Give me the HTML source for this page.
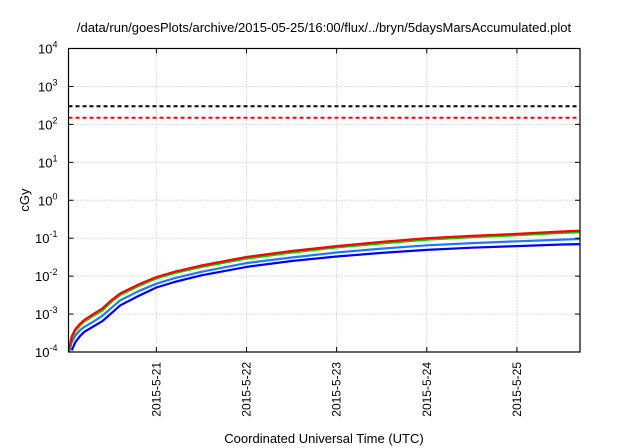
<!DOCTYPE html>
<html><head><meta charset="utf-8"><style>
body{margin:0;background:#fff}
svg{font-family:"Liberation Sans",sans-serif;display:block}
</style></head><body>
<svg id="c" width="640" height="448">
<text x="324" y="32" font-size="13" text-anchor="middle">/data/run/goesPlots/archive/2015-05-25/16:00/flux/../bryn/5daysMarsAccumulated.plot</text>
<text x="0" y="0" font-size="13" text-anchor="middle" transform="translate(29,200) rotate(-90)">cGy</text>
<text x="324" y="443" font-size="13" text-anchor="middle">Coordinated Universal Time (UTC)</text>
<g id="grid"></g><g id="series"></g><g id="axes"></g>
</svg>
<script>
const xTickDays=[21,22,23,24,25];
const xTickLabels=["2015-5-21","2015-5-22","2015-5-23","2015-5-24","2015-5-25"];
const yTickExps=[-4,-3,-2,-1,0,1,2,3,4];
const thresholdValues=[300,150];
const thresholdColors=["#000","#f00"];
const times=[20.03,20.06,20.1,20.15,20.2,20.3,20.4,20.5,20.6,20.8,21.0,21.2,21.5,22.0,22.5,23.0,23.5,24.0,24.5,25.0,25.5,25.7];
const redVals=[1.2e-4,2.6e-4,4e-4,5.5e-4,7e-4,1e-3,1.4e-3,2.3e-3,3.5e-3,6e-3,9.5e-3,1.3e-2,1.9e-2,3.2e-2,4.6e-2,6.2e-2,8e-2,1.0e-1,1.15e-1,1.3e-1,1.5e-1,1.58e-1];
const greenVals=[1.1e-4,2.3e-4,3.6e-4,5e-4,6.4e-4,9e-4,1.25e-3,2.1e-3,3.2e-3,5.5e-3,8.7e-3,1.2e-2,1.75e-2,2.9e-2,4.2e-2,5.7e-2,7.3e-2,9.2e-2,1.06e-1,1.2e-1,1.38e-1,1.45e-1];
const lightBlueVals=[1e-4,1.8e-4,2.7e-4,3.7e-4,4.6e-4,6.3e-4,9e-4,1.45e-3,2.3e-3,4e-3,6.3e-3,8.8e-3,1.3e-2,2.2e-2,3.1e-2,4.2e-2,5.3e-2,6.5e-2,7.4e-2,8.3e-2,9.2e-2,9.5e-2];
const darkBlueVals=[null,1.1e-4,1.8e-4,2.6e-4,3.4e-4,4.7e-4,6.5e-4,1.05e-3,1.7e-3,3e-3,5e-3,7e-3,1.05e-2,1.75e-2,2.5e-2,3.3e-2,4.1e-2,4.9e-2,5.6e-2,6.2e-2,6.8e-2,7e-2];
const seriesList=[[darkBlueVals,"#0000ff","series-dark-blue"],[lightBlueVals,"#1e78ff","series-light-blue"],[greenVals,"#00d000","series-green"],[redVals,"#ff0000","series-red"]];
const L=68.5,R=580,T=48.5,B=352,X0=20.025,X1=25.7;
const xs=d=>L+(d-X0)/(X1-X0)*(R-L);
const ys=v=>B-(Math.log10(v)+4)/8*(B-T);
const NS="http://www.w3.org/2000/svg";
function mk(tag,attrs,parent){const e=document.createElementNS(NS,tag);for(const k in attrs)e.setAttribute(k,attrs[k]);parent.appendChild(e);return e;}
const grid=document.getElementById('grid'),ser=document.getElementById('series'),ax=document.getElementById('axes');
xTickDays.forEach((d,i)=>{const x=xs(d);
 const g=mk('line',{x1:x,x2:x,y1:T,y2:B,stroke:"#bbb","stroke-dasharray":"1,2"},grid);
 
 
 mk('line',{x1:x,x2:x,y1:B,y2:B-5,stroke:"#000"},ax);
 mk('line',{x1:x,x2:x,y1:T,y2:T+5,stroke:"#000"},ax);
 const t=mk('text',{x:0,y:0,"font-size":"12","text-anchor":"end",transform:`translate(${x+4},${B+10}) rotate(-90)`},ax);
 t.textContent=xTickLabels[i];
 
 
});
yTickExps.forEach(e=>{const y=ys(Math.pow(10,e));
 if(e>-4&&e<4){const g=mk('line',{x1:L,x2:R,y1:y,y2:y,stroke:"#bbb","stroke-dasharray":"1,2"},grid);
  
  }
 mk('line',{x1:L,x2:L+5,y1:y,y2:y,stroke:"#000"},ax);
 mk('line',{x1:R,x2:R-5,y1:y,y2:y,stroke:"#000"},ax);
 const t=mk('text',{x:L-11,y:y+5,"font-size":"13","text-anchor":"end"},ax);
 t.innerHTML='10<tspan dy="-6" font-size="9">'+e+'</tspan>';
 
 
});
thresholdValues.forEach((v,i)=>{const y=ys(v);
 const l=mk('line',{x1:L,x2:R,y1:y,y2:y,stroke:thresholdColors[i],"stroke-width":"2","stroke-dasharray":"4,3"},ser);
 
 
});
seriesList.forEach(([vals,col,name])=>{let d="";
 vals.forEach((v,i)=>{if(v==null)return;d+=(d?"L":"M")+xs(times[i]).toFixed(1)+","+ys(v).toFixed(1);});
 const p=mk('path',{d:d,fill:"none",stroke:col,"stroke-width":"2.2","stroke-linejoin":"round"},ser);
 
 
});
const f=mk('rect',{x:L,y:T,width:R-L,height:B-T,fill:"none",stroke:"#000","stroke-width":"1.2"},ax);


</script>
</body></html>
